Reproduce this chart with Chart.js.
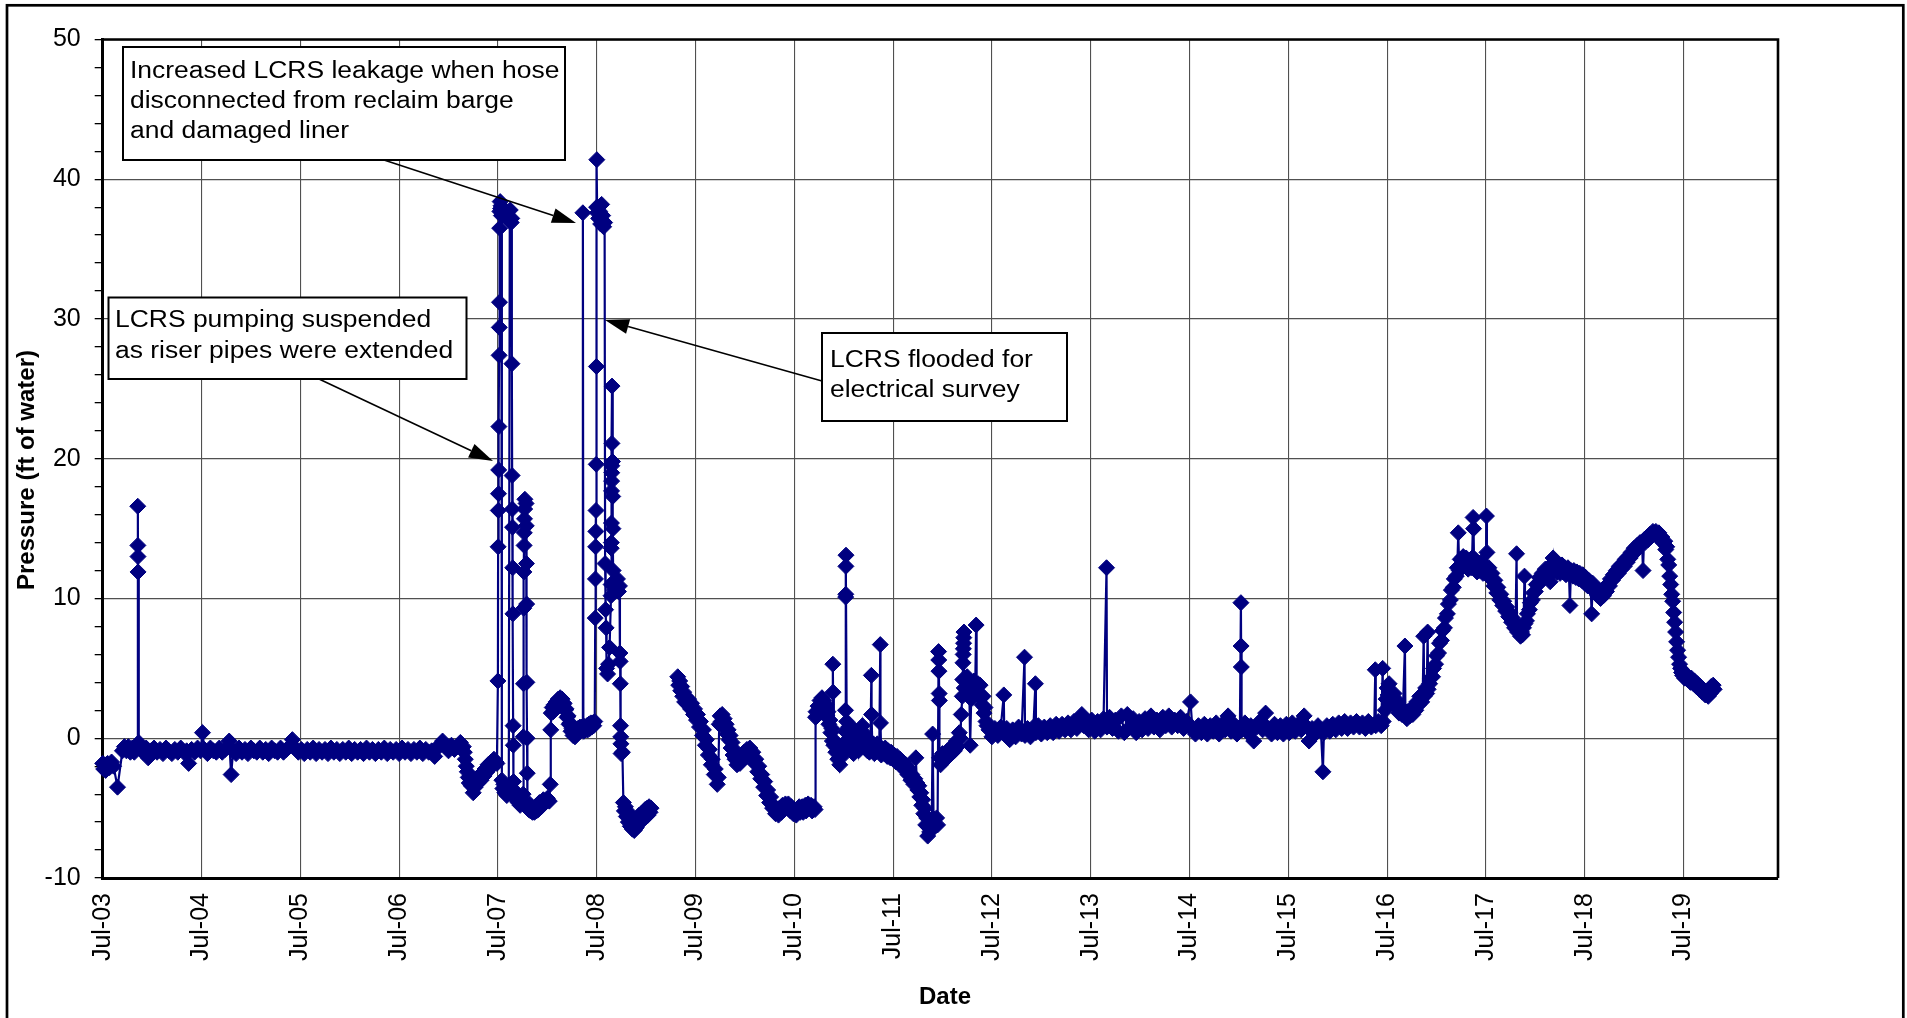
<!DOCTYPE html>
<html>
<head>
<meta charset="utf-8">
<script src="https://cdn.jsdelivr.net/npm/chart.js@4.4.1/dist/chart.umd.min.js"></script>
<style>
html,body{margin:0;padding:0;background:#fff;}
canvas{display:block;}
</style>
</head>
<body>
<canvas id="c" width="1907" height="1018"></canvas>
<script>
// ---------- DATA: [decimal year, pressure (ft of water)] ----------
const start2003 = [[2003.50,-1.8],[2003.51,-2.2],[2003.52,-1.9],[2003.53,-2.3],[2003.55,-1.8],[2003.57,-2.1],[2003.59,-1.7],
  [2003.61,-2.0],[2003.65,-3.5],[2003.70,-0.9],[2003.72,-0.6],[2003.74,-0.9],[2003.76,-0.6],[2003.78,-1.0],[2003.80,-0.7],
  [2003.82,-1.0],[2003.84,-0.6],[2003.85,-0.5],[2003.855,16.6],[2003.856,13.8],[2003.857,13.0],[2003.858,11.9],[2003.865,-0.3]];

const band2004to2007 = [[2003.88,-0.8],[2003.91,-1.0],[2003.94,-0.7],[2003.96,-1.4],[2003.99,-0.9],[2004.02,-0.7],[2004.05,-1.0],
  [2004.08,-0.8],[2004.11,-1.1],[2004.14,-0.7],[2004.17,-0.9],[2004.20,-1.1],[2004.23,-0.8],[2004.26,-1.0],[2004.29,-0.7],
  [2004.32,-1.0],[2004.35,-0.9],[2004.37,-1.8],[2004.40,-0.8],[2004.43,-1.0],[2004.46,-0.7],[2004.49,-0.9],[2004.51,0.4],
  [2004.53,-0.8],[2004.56,-1.1],[2004.59,-0.7],[2004.62,-0.9],[2004.65,-1.0],[2004.68,-0.7],[2004.71,-1.0],[2004.74,-0.8],
  [2004.78,-0.2],[2004.80,-2.6],[2004.82,-0.9],[2004.85,-1.1],[2004.88,-0.7],[2004.91,-1.0],[2004.94,-0.8],[2004.97,-1.1],
  [2005.00,-0.7],[2005.03,-0.9],[2005.06,-1.0],[2005.09,-0.7],[2005.12,-1.0],[2005.15,-0.8],[2005.18,-1.1],[2005.21,-0.7],
  [2005.24,-0.9],[2005.27,-1.0],[2005.30,-0.7],[2005.33,-1.0],[2005.36,-0.8],[2005.39,-0.6],[2005.42,-0.1],[2005.45,-0.7],
  [2005.48,-1.0],[2005.51,-0.8],[2005.54,-1.1],[2005.57,-0.8],[2005.60,-1.0],[2005.63,-0.7],[2005.66,-1.1],[2005.69,-0.8],
  [2005.72,-1.0],[2005.75,-0.8],[2005.78,-1.1],[2005.81,-0.7],[2005.84,-1.0],[2005.87,-0.8],[2005.90,-1.1],[2005.93,-0.8],
  [2005.96,-1.0],[2005.99,-0.7],[2006.02,-1.1],[2006.05,-0.8],[2006.08,-1.0],[2006.11,-0.8],[2006.14,-1.1],[2006.17,-0.7],
  [2006.20,-1.0],[2006.23,-0.8],[2006.26,-1.1],[2006.29,-0.8],[2006.32,-1.0],[2006.35,-0.7],[2006.38,-1.1],[2006.41,-0.8],
  [2006.44,-1.0],[2006.47,-0.8],[2006.50,-1.1],[2006.53,-0.7],[2006.56,-1.0],[2006.59,-0.8],[2006.62,-1.1],[2006.65,-0.8],
  [2006.68,-1.0],[2006.71,-0.7],[2006.74,-1.1],[2006.77,-0.8],[2006.80,-1.0],[2006.83,-0.9],[2006.86,-1.3],[2006.89,-0.7],
  [2006.92,-0.4],[2006.94,-0.2],[2006.97,-0.6],[2007.00,-0.9],[2007.03,-0.5],[2007.06,-0.8],[2007.09,-0.6],[2007.12,-0.3]];

const drop2007 = [[2007.15,-0.6],[2007.16,-1.0],[2007.17,-1.5],[2007.18,-2.0],[2007.19,-2.4],[2007.20,-2.8],[2007.21,-3.2],
  [2007.22,-2.7],[2007.23,-3.4],[2007.24,-3.0],[2007.25,-3.9],[2007.26,-3.2],[2007.27,-3.5],[2007.28,-2.9],[2007.30,-3.2],
  [2007.31,-2.7],[2007.33,-3.0],[2007.34,-2.5],[2007.36,-2.7],[2007.37,-2.2],[2007.39,-2.4],[2007.40,-1.9],[2007.42,-2.1],
  [2007.43,-1.7],[2007.45,-1.9],[2007.46,-1.5],[2007.48,-1.7],[2007.49,-1.8]];

const spikes2007 = [[2007.500,4.1],[2007.502,13.7],[2007.504,16.3],[2007.506,17.5],[2007.508,19.2],[2007.510,22.3],
  [2007.512,27.4],[2007.514,29.4],[2007.516,31.2],[2007.518,36.5],[2007.520,37.7],[2007.523,38.4],[2007.527,37.9],
  [2007.531,38.1],[2007.535,37.4],[2007.540,-3.0],[2007.550,-3.6],[2007.560,-3.3],[2007.570,-3.9],[2007.580,-3.5],
  [2007.590,-4.1],[2007.600,-3.7],[2007.610,-3.9],[2007.620,37.0],[2007.625,37.8],[2007.630,37.2],[2007.635,36.9],
  [2007.640,37.2],[2007.642,26.8],[2007.644,18.8],[2007.646,16.4],[2007.648,15.1],[2007.650,12.2],[2007.652,8.9],
  [2007.654,0.9],[2007.656,-0.5],[2007.658,-3.1],[2007.665,-4.2],[2007.675,-3.8],[2007.685,-4.4],[2007.695,-4.0],
  [2007.705,-4.6],[2007.715,-4.3],[2007.725,-4.8],[2007.735,-4.5],[2007.745,-4.6],[2007.755,-4.0],[2007.757,0.1],
  [2007.759,3.9],[2007.761,9.3],[2007.763,11.9],[2007.765,13.8],[2007.767,14.7],[2007.769,15.7],[2007.771,16.4],
  [2007.773,17.1],[2007.785,16.8],[2007.787,15.2],[2007.789,12.5],[2007.791,9.6],[2007.793,4.0],[2007.795,0.0],
  [2007.797,-2.5],[2007.80,-4.8],[2007.81,-5.1],[2007.82,-4.7],[2007.83,-5.2],[2007.84,-4.9],[2007.85,-5.3],[2007.86,-5.0],
  [2007.87,-5.3],[2007.88,-4.9],[2007.89,-5.2],[2007.90,-4.8],[2007.91,-5.1],[2007.92,-4.6],[2007.94,-4.9],[2007.96,-4.4],
  [2007.98,-4.6],[2008.00,-4.3],[2008.02,-4.5]];

const spikes2008 = [[2008.030,-3.3],[2008.035,0.6],[2008.040,1.8],[2008.05,2.2],[2008.06,1.9],[2008.07,2.4],[2008.08,2.1],
  [2008.09,2.6],[2008.10,2.3],[2008.11,2.8],[2008.12,2.5],[2008.13,2.9],[2008.14,2.6],[2008.15,2.8],[2008.16,2.4],
  [2008.17,2.5],[2008.18,2.0],[2008.19,2.1],[2008.20,1.5],[2008.21,1.6],[2008.22,1.0],[2008.23,1.1],[2008.24,0.5],
  [2008.25,0.7],[2008.26,0.2],[2008.27,0.4],[2008.28,0.1],[2008.29,0.5],[2008.30,0.3],[2008.31,0.7],[2008.32,0.5],
  [2008.33,0.8],[2008.34,0.6],[2008.355,0.8],[2008.360,37.6],[2008.365,0.9],[2008.37,0.5],[2008.38,0.8],[2008.39,0.6],
  [2008.40,0.9],[2008.41,0.6],[2008.42,1.0],[2008.43,0.7],[2008.44,1.1],[2008.45,0.8],[2008.46,1.1],[2008.47,0.9],
  [2008.480,1.2],[2008.485,8.6],[2008.487,11.4],[2008.489,13.7],[2008.491,14.8],[2008.493,16.3],[2008.495,19.6],
  [2008.497,26.6],[2008.499,38.0],[2008.501,41.4],[2008.505,37.6],[2008.51,38.0],[2008.52,37.2],[2008.53,37.7],
  [2008.54,36.8],[2008.55,38.2],[2008.56,37.4],[2008.57,36.6],[2008.58,36.9],[2008.585,12.5],[2008.590,9.2],
  [2008.595,7.9],[2008.60,5.0],[2008.61,4.6],[2008.62,5.3],[2008.63,6.5],[2008.645,10.2],[2008.646,11.0],[2008.647,13.6],
  [2008.648,14.0],[2008.649,15.4],[2008.650,17.7],[2008.651,18.4],[2008.652,19.0],[2008.653,19.5],[2008.654,21.1],
  [2008.655,25.2],[2008.660,19.8],[2008.662,17.3],[2008.664,15.0],[2008.666,12.0],[2008.67,11.2],[2008.68,10.6],
  [2008.69,11.0],[2008.70,10.8],[2008.71,11.4],[2008.72,10.5],[2008.73,10.9],[2008.735,6.1],[2008.737,5.5],[2008.739,3.9],
  [2008.741,0.9],[2008.743,0.1],[2008.745,-0.4],[2008.747,-1.1],[2008.76,-1.0],[2008.77,-4.6],[2008.78,-5.2],[2008.79,-4.9],
  [2008.80,-5.6],[2008.81,-5.2],[2008.82,-6.0],[2008.83,-5.5],[2008.84,-6.3],[2008.85,-5.8],[2008.86,-6.5],[2008.87,-6.0],
  [2008.88,-6.6],[2008.89,-6.1],[2008.90,-6.4],[2008.91,-5.8],[2008.92,-6.1],[2008.93,-5.5],[2008.94,-5.9],[2008.95,-5.4],
  [2008.96,-5.9],[2008.97,-5.3],[2008.98,-5.7],[2008.99,-5.1],[2009.00,-5.6],[2009.01,-5.0],[2009.02,-5.5],[2009.03,-4.9],
  [2009.04,-5.3],[2009.05,-5.0]];

const waves2009 = [[2009.20,null],[2009.32,4.4],[2009.33,3.8],[2009.34,4.1],[2009.35,3.4],[2009.36,3.7],[2009.37,3.0],
  [2009.38,3.3],[2009.39,2.6],[2009.40,3.0],[2009.42,2.4],[2009.43,2.8],[2009.45,2.1],[2009.46,2.5],[2009.48,1.7],
  [2009.49,2.1],[2009.51,1.3],[2009.52,1.7],[2009.54,0.8],[2009.55,1.2],[2009.57,0.2],[2009.58,0.6],[2009.60,-0.5],
  [2009.61,-0.1],[2009.63,-1.2],[2009.64,-0.8],[2009.66,-1.9],[2009.67,-1.5],[2009.69,-2.6],[2009.70,-2.2],[2009.72,-3.3],
  [2009.73,-2.8],[2009.74,1.0],[2009.75,1.6],[2009.76,1.2],[2009.77,1.7],[2009.78,1.1],[2009.79,1.4],[2009.80,0.7],
  [2009.81,1.0],[2009.82,0.3],[2009.83,0.6],[2009.84,-0.1],[2009.85,0.2],[2009.86,-0.7],[2009.87,-0.3],[2009.88,-1.2],
  [2009.89,-0.8],[2009.90,-1.5],[2009.92,-1.9],[2009.93,-1.5],[2009.95,-1.8],[2009.96,-1.3],[2009.98,-1.5],[2009.99,-1.0],
  [2010.01,-1.3],[2010.02,-0.8],[2010.04,-1.1],[2010.05,-0.7],[2010.07,-1.3],[2010.08,-1.0],[2010.10,-1.8],[2010.11,-1.5],
  [2010.13,-2.4],[2010.14,-2.0],[2010.16,-2.9],[2010.17,-2.6],[2010.19,-3.5],[2010.20,-3.1],[2010.22,-4.1],[2010.23,-3.7],
  [2010.25,-4.6],[2010.26,-4.2],[2010.28,-5.0],[2010.29,-4.8],[2010.31,-5.4],[2010.32,-5.1],[2010.34,-5.5],[2010.35,-5.0],
  [2010.37,-5.3],[2010.38,-4.8],[2010.40,-5.1],[2010.41,-4.7],[2010.43,-5.0],[2010.44,-4.7],[2010.46,-5.2],[2010.47,-4.9],
  [2010.49,-5.4],[2010.50,-5.1],[2010.52,-5.5],[2010.53,-5.1],[2010.55,-4.9],[2010.56,-5.3],[2010.58,-4.9],[2010.59,-5.3],
  [2010.61,-4.8],[2010.62,-5.2],[2010.64,-4.7],[2010.65,-5.0],[2010.67,-4.8],[2010.68,-5.2],[2010.70,-4.9],[2010.71,-5.1]];

const noisy2011 = [[2010.715,1.5],[2010.72,1.9],[2010.73,1.6],[2010.74,2.3],[2010.75,2.0],[2010.76,2.7],[2010.77,2.4],
  [2010.78,2.9],[2010.79,2.5],[2010.80,2.7],[2010.81,2.1],[2010.82,2.4],[2010.83,1.6],[2010.84,1.9],[2010.85,1.0],
  [2010.86,1.3],[2010.87,0.4],[2010.88,0.7],[2010.885,-0.2],[2010.89,5.3],[2010.892,3.3],[2010.90,-0.5],[2010.91,-0.2],
  [2010.92,-1.0],[2010.93,-0.7],[2010.94,-1.5],[2010.95,-1.1],[2010.96,-1.9],[2010.97,-1.4],[2010.98,-1.1],[2010.99,-0.6],
  [2011.00,-0.9],[2011.01,-0.3],[2011.015,0.5],[2011.018,2.0],[2011.020,10.1],[2011.021,10.3],[2011.022,12.3],[2011.023,13.1],
  [2011.03,1.2],[2011.04,0.5],[2011.05,0.8],[2011.06,-0.2],[2011.07,0.1],[2011.08,-0.8],[2011.09,-0.4],[2011.10,-1.1],
  [2011.11,0.6],[2011.12,0.1],[2011.13,-0.5],[2011.14,-0.1],[2011.15,-0.9],[2011.16,-0.3],[2011.17,0.4],[2011.18,0.0],
  [2011.19,0.9],[2011.20,0.4],[2011.21,0.1],[2011.22,-0.5],[2011.23,-0.2],[2011.24,-0.9],[2011.25,-0.5],[2011.26,-1.0],
  [2011.27,-0.4],[2011.28,4.5],[2011.282,1.7],[2011.29,-0.8],[2011.30,-0.4],[2011.31,-1.1],[2011.32,-0.6],[2011.33,-0.9],
  [2011.34,-0.4],[2011.35,-0.9],[2011.36,-0.6],[2011.37,6.7],[2011.372,1.1],[2011.38,-1.2],[2011.39,-0.8],[2011.41,-1.1],
  [2011.42,-0.7],[2011.44,-1.3],[2011.45,-0.9],[2011.47,-1.4],[2011.48,-1.0],[2011.50,-1.5],[2011.51,-1.2],[2011.53,-1.7],
  [2011.54,-1.3],[2011.56,-1.8],[2011.57,-1.5],[2011.59,-2.0],[2011.60,-1.7],[2011.62,-2.3],[2011.63,-1.9],[2011.65,-2.6],
  [2011.66,-2.2],[2011.68,-3.0],[2011.69,-2.6],[2011.71,-3.3],[2011.72,-2.9],[2011.73,-1.4],[2011.74,-3.2],[2011.75,-3.7],
  [2011.76,-3.4],[2011.77,-4.2],[2011.78,-3.9],[2011.79,-4.8],[2011.80,-4.4],[2011.81,-5.4],[2011.82,-5.0],[2011.83,-6.2],
  [2011.84,-5.7],[2011.85,-7.0],[2011.86,-6.4],[2011.87,-6.7],[2011.88,-6.0],[2011.89,-6.4],[2011.90,0.3],[2011.91,-6.3],
  [2011.92,-5.8],[2011.93,-6.2],[2011.94,-5.7],[2011.95,-6.2],[2011.96,6.2],[2011.962,5.6],[2011.964,4.8],[2011.966,3.2],
  [2011.968,2.7],[2011.97,-1.4],[2011.98,-1.9],[2011.99,-1.5]];

const recover2012 = [[2012.00,-1.1],[2012.01,-1.6],[2012.02,-1.2],[2012.03,-1.5],[2012.05,-0.9],[2012.06,-1.3],[2012.08,-0.7],
  [2012.09,-1.1],[2012.11,-0.5],[2012.12,-0.9],[2012.14,-0.2],[2012.15,-0.6],[2012.17,0.4],[2012.18,0.0],[2012.19,1.7],
  [2012.20,3.0],[2012.205,4.2],[2012.207,5.4],[2012.209,6.0],[2012.211,6.4],[2012.213,6.8],[2012.215,7.2],[2012.217,7.6],
  [2012.22,3.6],[2012.23,4.2],[2012.24,3.5],[2012.25,4.4],[2012.26,3.2],[2012.27,3.9],[2012.28,-0.5],[2012.29,2.8],
  [2012.30,3.5],[2012.31,3.0],[2012.32,4.1],[2012.33,3.2],[2012.34,8.1],[2012.345,3.4],[2012.36,3.9],[2012.37,3.2],
  [2012.38,3.8],[2012.39,2.9],[2012.40,2.4],[2012.41,3.0],[2012.42,1.8],[2012.43,2.2],[2012.44,1.2],[2012.45,0.9]];

const band2012to2013 = [[2012.47,0.6],[2012.50,0.1],[2012.53,0.7],[2012.56,0.2],[2012.59,0.8],[2012.62,3.1],[2012.625,0.3],
  [2012.65,0.7],[2012.68,-0.1],[2012.71,0.6],[2012.74,0.1],[2012.77,0.8],[2012.80,0.3],[2012.83,5.8],[2012.835,0.2],
  [2012.86,0.7],[2012.89,0.1],[2012.92,0.8],[2012.94,3.9],[2012.945,0.4],[2012.97,0.9],[2013.00,0.3],[2013.03,0.8],
  [2013.06,0.4],[2013.09,0.9],[2013.12,0.4],[2013.15,1.0],[2013.18,0.5],[2013.21,1.0],[2013.24,0.6],[2013.27,1.1],
  [2013.30,0.6],[2013.33,1.2],[2013.36,0.7],[2013.39,1.3],[2013.41,1.7],[2013.43,0.9],[2013.45,1.3]];

const band2013to2014 = [[2013.48,0.6],[2013.51,1.3],[2013.54,0.5],[2013.57,1.2],[2013.60,0.6],[2013.63,1.4],[2013.66,12.2],
  [2013.665,0.8],[2013.69,1.5],[2013.72,0.7],[2013.75,1.3],[2013.78,0.5],[2013.81,1.6],[2013.84,0.4],[2013.87,1.7],
  [2013.90,0.8],[2013.93,1.4],[2013.96,0.4],[2013.99,1.2],[2014.02,0.6],[2014.05,1.4],[2014.08,0.7],[2014.11,1.6],
  [2014.14,0.8],[2014.17,1.3],[2014.20,0.6],[2014.23,1.5],[2014.26,0.9],[2014.29,1.6],[2014.32,0.8],[2014.35,1.3],
  [2014.38,0.9],[2014.41,1.5],[2014.44,0.7],[2014.47,1.2],[2014.51,2.6],[2014.53,0.6]];

const band2014to2016 = [[2014.56,0.3],[2014.59,0.9],[2014.62,0.4],[2014.65,1.0],[2014.68,0.3],[2014.71,0.9],[2014.74,0.5],
  [2014.77,1.1],[2014.80,0.3],[2014.83,1.0],[2014.86,0.6],[2014.89,1.6],[2014.92,0.5],[2014.95,1.0],[2014.98,0.3],
  [2015.01,0.8],[2015.02,9.7],[2015.022,6.6],[2015.024,5.1],[2015.03,0.6],[2015.06,1.1],[2015.09,0.4],[2015.12,0.9],
  [2015.15,-0.2],[2015.18,0.8],[2015.21,1.2],[2015.24,0.6],[2015.27,1.8],[2015.30,0.7],[2015.33,0.3],[2015.36,1.0],
  [2015.39,0.4],[2015.42,0.9],[2015.45,0.3],[2015.48,1.0],[2015.51,0.4],[2015.54,1.1],[2015.57,0.5],[2015.60,1.0],
  [2015.63,0.6],[2015.66,1.6],[2015.69,0.8],[2015.71,-0.2],[2015.74,0.7],[2015.77,0.3],[2015.80,0.9],[2015.83,0.5],
  [2015.85,-2.4],[2015.86,0.4],[2015.89,0.9],[2015.92,0.5],[2015.95,1.0],[2015.98,0.6],[2016.01,1.1],[2016.04,0.7],
  [2016.07,1.2],[2016.10,0.7],[2016.13,1.1],[2016.16,0.8],[2016.19,1.2],[2016.22,0.8],[2016.25,1.1],[2016.28,0.7],
  [2016.31,1.2],[2016.34,0.8],[2016.37,1.0],[2016.38,4.9],[2016.385,0.9],[2016.41,1.2],[2016.44,0.9],[2016.455,5.0],
  [2016.46,1.2]];

const rise2016to2017 = [[2016.48,2.0],[2016.49,2.8],[2016.50,3.6],[2016.51,3.1],[2016.52,3.9],[2016.53,2.9],[2016.54,3.3],
  [2016.56,2.6],[2016.57,3.2],[2016.59,2.3],[2016.60,2.7],[2016.62,1.8],[2016.63,2.2],[2016.65,1.7],[2016.66,2.1],
  [2016.68,6.6],[2016.685,1.8],[2016.70,1.4],[2016.71,1.9],[2016.73,1.6],[2016.74,2.1],[2016.76,1.7],[2016.77,2.2],
  [2016.79,2.0],[2016.80,2.6],[2016.82,2.4],[2016.83,3.0],[2016.85,2.6],[2016.86,3.1],[2016.87,7.3],[2016.875,3.0],
  [2016.89,3.6],[2016.90,3.2],[2016.91,7.6],[2016.915,3.5],[2016.93,3.9],[2016.94,4.3],[2016.96,4.4],[2016.97,5.0],
  [2016.99,5.3],[2017.00,5.9],[2017.02,6.1],[2017.03,6.8],[2017.05,7.0],[2017.06,7.7],[2017.08,7.9],[2017.09,8.6],
  [2017.11,8.9],[2017.12,9.6],[2017.14,9.9],[2017.15,10.6],[2017.17,10.8],[2017.18,11.4],[2017.20,11.6],[2017.21,12.2],
  [2017.22,14.7],[2017.23,12.0],[2017.24,12.8],[2017.26,12.3],[2017.27,13.0],[2017.29,12.4]];

const peak2017 = [[2017.30,12.9],[2017.32,12.1],[2017.33,12.7],[2017.35,12.2],[2017.36,12.9],[2017.37,15.8],[2017.375,15.0],
  [2017.38,12.3],[2017.39,12.8],[2017.41,11.9],[2017.42,12.5],[2017.44,12.0],[2017.45,12.6],[2017.47,11.8],[2017.48,12.4],
  [2017.50,12.0],[2017.505,15.9],[2017.51,13.3],[2017.52,11.9],[2017.53,12.2],[2017.55,11.4],[2017.56,11.8],[2017.58,10.9],
  [2017.59,11.3],[2017.61,10.4],[2017.62,10.8],[2017.64,9.9],[2017.65,10.3],[2017.67,9.5],[2017.68,9.8],[2017.70,9.1],
  [2017.71,9.4],[2017.73,8.7],[2017.74,9.0],[2017.76,8.3],[2017.77,8.6],[2017.79,7.9],[2017.80,8.2],[2017.81,13.2],
  [2017.815,7.8],[2017.82,7.6],[2017.83,7.9],[2017.85,7.3],[2017.86,7.6],[2017.87,7.4],[2017.88,7.9],[2017.89,11.6],
  [2017.895,8.2]];

const plateau2018 = [[2017.91,8.4],[2017.92,8.9],[2017.94,9.2],[2017.95,9.7],[2017.97,9.9],[2017.98,10.4],[2018.00,10.5],
  [2018.01,11.0],[2018.03,11.0],[2018.04,11.5],[2018.06,11.3],[2018.07,11.8],[2018.09,11.6],[2018.10,12.1],[2018.12,11.7],
  [2018.13,12.2],[2018.15,11.2],[2018.16,11.8],[2018.18,12.9],[2018.19,12.0],[2018.21,12.4],[2018.22,11.9],[2018.24,12.3],
  [2018.25,11.8],[2018.27,12.4],[2018.28,11.9],[2018.30,12.2],[2018.31,11.7],[2018.33,12.2],[2018.34,11.8],[2018.35,9.5],
  [2018.36,12.0],[2018.38,11.6],[2018.39,12.0],[2018.41,11.5],[2018.42,11.9],[2018.44,11.4],[2018.45,11.8],[2018.47,11.3],
  [2018.48,11.7],[2018.50,11.1],[2018.51,11.5],[2018.53,10.9],[2018.54,11.3],[2018.56,10.8],[2018.57,8.9],[2018.58,11.1],
  [2018.60,10.5],[2018.61,10.8],[2018.63,10.2],[2018.64,10.6],[2018.66,10.0],[2018.67,10.4],[2018.69,10.2],[2018.70,10.6],
  [2018.72,10.5]];

const peak2019 = [[2018.73,11.0],[2018.75,10.9],[2018.76,11.4],[2018.78,11.3],[2018.79,11.7],[2018.81,11.6],[2018.82,12.0],
  [2018.84,11.8],[2018.85,12.3],[2018.87,12.1],[2018.88,12.5],[2018.90,12.3],[2018.91,12.8],[2018.93,12.6],[2018.94,13.0],
  [2018.96,12.9],[2018.97,13.3],[2018.99,13.2],[2019.00,13.6],[2019.02,13.4],[2019.03,13.8],[2019.05,13.7],[2019.06,14.0],
  [2019.08,13.9],[2019.09,12.0],[2019.10,14.2],[2019.11,14.0],[2019.13,14.4],[2019.14,14.2],[2019.16,14.6],[2019.17,14.4],
  [2019.19,14.8],[2019.20,14.6],[2019.22,14.8],[2019.23,14.5],[2019.25,14.7],[2019.26,14.3],[2019.28,14.4],[2019.29,14.0],
  [2019.31,14.1],[2019.32,13.5],[2019.33,13.7],[2019.34,12.8],[2019.35,12.4],[2019.36,11.6],[2019.37,11.0],[2019.38,10.3],
  [2019.39,9.8],[2019.40,9.0],[2019.41,8.3],[2019.42,7.6],[2019.43,6.9],[2019.44,6.3],[2019.45,5.8],[2019.46,5.3],
  [2019.47,5.0],[2019.48,4.7],[2019.49,4.5],[2019.51,4.3],[2019.52,4.6],[2019.54,4.2],[2019.55,4.4],[2019.57,4.0],
  [2019.58,4.3],[2019.60,3.9],[2019.61,4.1],[2019.63,3.7],[2019.64,3.9],[2019.66,3.5],[2019.67,3.7],[2019.69,3.3],
  [2019.70,3.5],[2019.72,3.1],[2019.73,3.3],[2019.75,3.0],[2019.76,3.4],[2019.77,3.2],[2019.78,3.7],[2019.79,3.4],
  [2019.80,3.8],[2019.81,3.5]];

const xTickDates  = [2003.5,2004.5,2005.5,2006.5,2007.5,2008.5,2009.5,2010.5,2011.5,2012.5,2013.5,2014.5,2015.5,2016.5,2017.5,2018.5,2019.5];
const xTickLabels = ['Jul-03','Jul-04','Jul-05','Jul-06','Jul-07','Jul-08','Jul-09','Jul-10','Jul-11','Jul-12','Jul-13','Jul-14','Jul-15','Jul-16','Jul-17','Jul-18','Jul-19'];
const yTicks = [-10,-8,-6,-4,-2,0,2,4,6,8,10,12,14,16,18,20,22,24,26,28,30,32,34,36,38,40,42,44,46,48,50];
const yLabelled = [-10,0,10,20,30,40,50];
const yTitle = 'Pressure (ft of water)';
const xTitle = 'Date';

const annotations = [
  {lines:['Increased LCRS leakage when hose','disconnected from reclaim barge','and damaged liner'],
   box:[123,47,442,113], textX:130, base:[78,107.5,138], from:[384,160], to:[576,223]},
  {lines:['LCRS pumping suspended','as riser pipes were extended'],
   box:[108.5,297.5,358,81.5], textX:115, base:[327,358], from:[319,379], to:[493,461]},
  {lines:['LCRS flooded for','electrical survey'],
   box:[822,333,245,88], textX:830, base:[367,397], from:[822,381], to:[605,320]}
];

// ---------- BUILD ----------
const allPairs = [].concat(start2003, band2004to2007, drop2007, spikes2007, spikes2008, waves2009,
  noisy2011, recover2012, band2012to2013, band2013to2014, band2014to2016, rise2016to2017, peak2017, plateau2018, peak2019);
const points = allPairs.map(p => ({x: p[0], y: p[1]}));

const FONT = "'Liberation Sans', Arial, Helvetica, sans-serif";
Chart.defaults.font.family = FONT;
Chart.defaults.color = '#000';
const TEXT_STRETCH = 1.15;

const framePlugin = {
  id: 'frame',
  beforeDraw(chart) {
    const ctx = chart.ctx;
    ctx.save();
    ctx.fillStyle = '#fff';
    ctx.fillRect(0, 0, chart.width, chart.height);
    ctx.strokeStyle = '#000';
    ctx.lineWidth = 2.7;
    ctx.strokeRect(7, 5.3, 1896.3, 1100);
    ctx.restore();
  },
  afterDatasetsDraw(chart) {
    const ctx = chart.ctx, a = chart.chartArea;
    ctx.save();
    ctx.strokeStyle = '#000';
    ctx.lineWidth = 2.6;
    ctx.beginPath();
    ctx.moveTo(a.left, a.top);
    ctx.lineTo(a.right, a.top);
    ctx.lineTo(a.right, a.bottom);
    ctx.stroke();
    ctx.restore();
  },
  afterDraw(chart) {
    const ctx = chart.ctx;
    ctx.save();
    ctx.fillStyle = '#000';
    ctx.font = 'bold 24px ' + FONT;
    ctx.textAlign = 'center';
    ctx.textBaseline = 'middle';
    ctx.save();
    ctx.translate(27, 470);
    ctx.rotate(-Math.PI / 2);
    ctx.fillText(yTitle, 0, 0);
    ctx.restore();
    ctx.fillText(xTitle, 945, 997);

    annotations.forEach(an => {
      const [x1, y1] = an.from, [x2, y2] = an.to;
      const ang = Math.atan2(y2 - y1, x2 - x1);
      const L = 24, W = 7.5;
      const bx = x2 - L * Math.cos(ang), by = y2 - L * Math.sin(ang);
      ctx.strokeStyle = '#000';
      ctx.lineWidth = 1.6;
      ctx.beginPath();
      ctx.moveTo(x1, y1);
      ctx.lineTo(bx, by);
      ctx.stroke();
      ctx.fillStyle = '#000';
      ctx.beginPath();
      ctx.moveTo(x2, y2);
      ctx.lineTo(bx + W * Math.sin(ang), by - W * Math.cos(ang));
      ctx.lineTo(bx - W * Math.sin(ang), by + W * Math.cos(ang));
      ctx.closePath();
      ctx.fill();
      const [bx0, by0, bw, bh] = an.box;
      ctx.fillStyle = '#fff';
      ctx.fillRect(bx0, by0, bw, bh);
      ctx.lineWidth = 2;
      ctx.strokeRect(bx0, by0, bw, bh);
      ctx.fillStyle = '#000';
      ctx.font = '23px ' + FONT;
      ctx.textAlign = 'left';
      ctx.textBaseline = 'alphabetic';
      an.lines.forEach((t, i) => {
        ctx.save();
        ctx.translate(an.textX, an.base[i]);
        ctx.scale(TEXT_STRETCH, 1);
        ctx.fillText(t, 0, 0);
        ctx.restore();
      });
    });
    ctx.restore();
  }
};

new Chart(document.getElementById('c'), {
  type: 'line',
  data: {
    datasets: [{
      label: 'Pressure',
      data: points,
      parsing: false,
      borderColor: '#000080',
      backgroundColor: '#000080',
      borderWidth: 2.2,
      pointStyle: 'rectRot',
      pointRadius: 8,
      pointBorderWidth: 1,
      pointBackgroundColor: '#000080',
      pointBorderColor: '#000080',
      spanGaps: false,
      tension: 0,
      clip: false
    }]
  },
  options: {
    responsive: false,
    animation: false,
    events: [],
    layout: {padding: {left: 0, top: 39.5, right: 129, bottom: 0}},
    plugins: {legend: {display: false}, tooltip: {enabled: false}},
    scales: {
      x: {
        type: 'linear',
        min: 2003.5,
        max: 2020.456,
        afterFit: s => { s.height = 140; },
        afterBuildTicks: s => { s.ticks = xTickDates.map(v => ({value: v})); },
        ticks: {
          autoSkip: false,
          minRotation: 90,
          maxRotation: 90,
          padding: 15,
          font: {size: 25},
          color: '#000',
          callback: (v) => { const i = xTickDates.indexOf(v); return i >= 0 ? xTickLabels[i] : ''; }
        },
        grid: {color: '#505050', lineWidth: 1.1, drawTicks: false},
        border: {color: '#000', width: 3},
        title: {display: false}
      },
      y: {
        type: 'linear',
        min: -10,
        max: 50,
        afterFit: s => { s.width = 102.7; },
        afterBuildTicks: s => { s.ticks = yTicks.map(v => ({value: v})); },
        ticks: {
          autoSkip: false,
          padding: 14,
          font: {size: 25},
          color: '#000',
          callback: (v) => yLabelled.includes(v) ? String(v) : ''
        },
        grid: {
          color: c => (c.tick && yLabelled.includes(c.tick.value)) ? '#505050' : 'rgba(0,0,0,0)',
          lineWidth: 1.3,
          drawTicks: true,
          tickLength: 8,
          tickColor: '#000',
          tickWidth: 1.3
        },
        border: {color: '#000', width: 3},
        title: {display: false}
      }
    }
  },
  plugins: [framePlugin]
});
</script>
</body>
</html>
